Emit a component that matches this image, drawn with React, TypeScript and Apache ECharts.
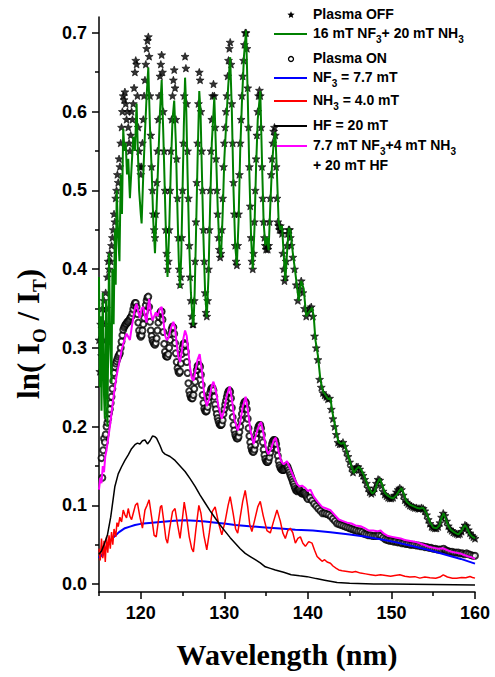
import React, { useEffect, useRef } from "react";
import * as echarts from "echarts";

// ---------------- DATA ----------------
// Plasma OFF (stars), fine sampling 115.0 .. 137.9 nm, step 0.1
const PLASMA_OFF_FINE_START = 115.0;
const PLASMA_OFF_FINE_STEP = 0.1;
const plasmaOffFine = [
  0.31, 0.27, 0.33, 0.29, 0.35, 0.31, 0.36, 0.33, 0.37, 0.35, // 115
  0.39, 0.41, 0.40, 0.42, 0.41, 0.43, 0.44, 0.45, 0.47, 0.46, // 116
  0.49, 0.50, 0.52, 0.51, 0.54, 0.53, 0.56, 0.58, 0.60, 0.62, // 117
  0.615, 0.625, 0.61, 0.59, 0.60, 0.58, 0.56, 0.55, 0.57, 0.60, // 118
  0.59, 0.61, 0.63, 0.65, 0.665, 0.66, 0.62, 0.58, 0.55, 0.53, // 119
  0.52, 0.53, 0.56, 0.59, 0.62, 0.64, 0.66, 0.68, 0.69, 0.695, // 120
  0.67, 0.62, 0.57, 0.53, 0.50, 0.47, 0.45, 0.44, 0.47, 0.51, // 121
  0.55, 0.59, 0.62, 0.645, 0.66, 0.672, 0.65, 0.60, 0.55, 0.50, // 122
  0.45, 0.42, 0.40, 0.41, 0.45, 0.50, 0.55, 0.59, 0.62, 0.64, // 123
  0.653, 0.63, 0.59, 0.54, 0.49, 0.44, 0.40, 0.38, 0.39, 0.44, // 124
  0.50, 0.56, 0.62, 0.67, 0.655, 0.61, 0.55, 0.49, 0.43, 0.39, // 125
  0.36, 0.34, 0.33, 0.33, 0.36, 0.41, 0.46, 0.51, 0.56, 0.61, // 126
  0.65, 0.64, 0.60, 0.55, 0.50, 0.45, 0.41, 0.37, 0.345, 0.34, // 127
  0.36, 0.40, 0.45, 0.50, 0.55, 0.59, 0.62, 0.635, 0.62, 0.58, // 128
  0.54, 0.50, 0.47, 0.44, 0.425, 0.415, 0.42, 0.45, 0.49, 0.53, // 129
  0.56, 0.58, 0.60, 0.62, 0.645, 0.665, 0.68, 0.688, 0.66, 0.61, // 130
  0.56, 0.51, 0.47, 0.43, 0.41, 0.405, 0.43, 0.47, 0.52, 0.56, // 131
  0.59, 0.62, 0.645, 0.665, 0.685, 0.70, 0.70, 0.68, 0.63, 0.58, // 132
  0.53, 0.48, 0.44, 0.41, 0.40, 0.42, 0.46, 0.50, 0.54, 0.57, // 133
  0.60, 0.62, 0.627, 0.62, 0.58, 0.53, 0.49, 0.46, 0.44, 0.43, // 134
  0.425, 0.43, 0.425, 0.43, 0.46, 0.49, 0.52, 0.54, 0.56, 0.575, // 135
  0.58, 0.57, 0.53, 0.49, 0.46, 0.455, 0.45, 0.455, 0.45, 0.445, // 136
  0.42, 0.40, 0.385, 0.39, 0.41, 0.43, 0.445, 0.45, 0.45, 0.44, // 137
];
// Plasma OFF (stars), coarse sampling 138.0 .. 160.0 nm, step 0.2
const PLASMA_OFF_COARSE_START = 138.0;
const PLASMA_OFF_COARSE_STEP = 0.2;
const plasmaOffCoarse = [
  0.43, 0.415, 0.40, 0.38, 0.36, // 138
  0.375, 0.385, 0.37, 0.35, 0.34, // 139
  0.345, 0.35, 0.352, 0.34, 0.315, // 140
  0.30, 0.285, 0.26, 0.25, 0.243, // 141
  0.24, 0.238, 0.235, 0.236, 0.222, // 142
  0.21, 0.20, 0.19, 0.18, 0.178, // 143
  0.178, 0.18, 0.175, 0.168, 0.162, // 144
  0.155, 0.148, 0.142, 0.145, 0.149, // 145
  0.149, 0.146, 0.141, 0.138, 0.133, // 146
  0.128, 0.122, 0.117, 0.115, 0.117, // 147
  0.122, 0.128, 0.133, 0.132, 0.125, // 148
  0.118, 0.114, 0.112, 0.110, 0.109, // 149
  0.109, 0.110, 0.113, 0.117, 0.120, // 150
  0.122, 0.120, 0.113, 0.107, 0.104, // 151
  0.102, 0.100, 0.099, 0.098, 0.097, // 152
  0.097, 0.096, 0.096, 0.097, 0.096, // 153
  0.093, 0.088, 0.082, 0.077, 0.073, // 154
  0.072, 0.071, 0.071, 0.073, 0.078, // 155
  0.085, 0.090, 0.087, 0.080, 0.074, // 156
  0.070, 0.068, 0.066, 0.065, 0.064, // 157
  0.063, 0.064, 0.067, 0.071, 0.075, // 158
  0.074, 0.069, 0.065, 0.062, 0.060, // 159
  0.058, // 160
];

// Plasma ON (open circles)
const plasmaOnLead = [
  [115.3, 0.16], [115.4, 0.135], [115.5, 0.17], [115.6, 0.185], [115.7, 0.18], [115.8, 0.19], [115.9, 0.2],
];
const PLASMA_ON_FINE_START = 116.0;
const PLASMA_ON_FINE_STEP = 0.1;
const plasmaOnFine = [
  0.205, 0.21, 0.217, 0.222, 0.23, 0.238, 0.248, 0.258, 0.268, 0.276, // 116
  0.28, 0.283, 0.286, 0.289, 0.291, 0.293, 0.3, 0.308, 0.316, 0.323, // 117
  0.326, 0.328, 0.33, 0.331, 0.333, 0.333, 0.335, 0.337, 0.339, 0.34, // 118
  0.344, 0.349, 0.354, 0.357, 0.357, 0.352, 0.343, 0.332, 0.322, 0.316, // 119
  0.314, 0.316, 0.322, 0.33, 0.338, 0.346, 0.354, 0.36, 0.364, 0.365, // 120
  0.352, 0.333, 0.322, 0.315, 0.31, 0.307, 0.305, 0.304, 0.306, 0.312, // 121
  0.322, 0.332, 0.339, 0.344, 0.346, 0.346, 0.336, 0.32, 0.305, 0.295, // 122
  0.29, 0.289, 0.289, 0.292, 0.3, 0.31, 0.318, 0.324, 0.327, 0.326, // 123
  0.318, 0.306, 0.293, 0.282, 0.274, 0.27, 0.268, 0.27, 0.28, 0.292, // 124
  0.3, 0.305, 0.306, 0.304, 0.295, 0.282, 0.268, 0.255, 0.245, 0.24, // 125
  0.237, 0.236, 0.236, 0.24, 0.248, 0.257, 0.265, 0.272, 0.277, 0.278, // 126
  0.278, 0.276, 0.266, 0.253, 0.24, 0.23, 0.223, 0.22, 0.219, 0.22, // 127
  0.225, 0.232, 0.238, 0.243, 0.247, 0.249, 0.249, 0.246, 0.238, 0.228, // 128
  0.222, 0.216, 0.211, 0.207, 0.204, 0.202, 0.202, 0.203, 0.208, 0.216, // 129
  0.222, 0.228, 0.233, 0.238, 0.242, 0.245, 0.246, 0.244, 0.236, 0.224, // 130
  0.212, 0.202, 0.195, 0.19, 0.187, 0.185, 0.185, 0.187, 0.193, 0.2, // 131
  0.208, 0.216, 0.223, 0.228, 0.231, 0.232, 0.23, 0.222, 0.21, 0.198, // 132
  0.188, 0.18, 0.174, 0.17, 0.168, 0.168, 0.171, 0.177, 0.185, 0.192, // 133
  0.197, 0.2, 0.202, 0.202, 0.198, 0.19, 0.18, 0.171, 0.164, 0.159, // 134
  0.156, 0.155, 0.155, 0.157, 0.161, 0.167, 0.173, 0.178, 0.181, 0.183, // 135
  0.183, 0.182, 0.178, 0.171, 0.163, 0.156, 0.151, 0.148, 0.146, 0.145, // 136
  0.145, 0.145, 0.146, 0.148, 0.15, 0.15, 0.148, 0.145, 0.142, 0.139, // 137
  0.136, 0.133, 0.13, 0.127, 0.124, 0.121, 0.119, 0.118, 0.119, 0.12, // 138
  0.12, 0.118, 0.116, 0.115, 0.115, 0.116, 0.116, 0.114, 0.112, 0.11, // 139
];
const PLASMA_ON_COARSE_START = 140.0;
const PLASMA_ON_COARSE_STEP = 0.25;
const plasmaOnCoarse = [
  0.108, 0.11, 0.106, 0.102, // 140
  0.099, 0.096, 0.093, 0.09, // 141
  0.09, 0.089, 0.088, 0.086, // 142
  0.083, 0.08, 0.077, 0.076, // 143
  0.075, 0.074, 0.073, 0.072, // 144
  0.071, 0.07, 0.069, 0.068, // 145
  0.067, 0.067, 0.066, 0.064, // 146
  0.063, 0.062, 0.062, 0.061, // 147
  0.061, 0.061, 0.062, 0.061, // 148
  0.059, 0.057, 0.056, 0.055, // 149
  0.055, 0.054, 0.054, 0.053, // 150
  0.053, 0.052, 0.052, 0.051, // 151
  0.051, 0.05, 0.05, 0.05, // 152
  0.049, 0.049, 0.048, 0.048, // 153
  0.047, 0.047, 0.046, 0.046, // 154
  0.045, 0.045, 0.044, 0.044, // 155
  0.044, 0.045, 0.043, 0.042, // 156
  0.041, 0.041, 0.04, 0.04, // 157
  0.04, 0.039, 0.039, 0.038, // 158
  0.039, 0.038, 0.037, 0.036, // 159
  0.036, // 160
];

// 16 mT NF3 + 20 mT NH3 (green)
const nf3nh3Line = [
  [115.0, 0.39], [115.1, 0.25], [115.2, 0.34], [115.3, 0.22], [115.45, 0.37], [115.6, 0.24], [115.7, 0.21],
  [115.85, 0.36], [116.0, 0.2], [116.1, 0.3], [116.2, 0.42], [116.35, 0.3], [116.5, 0.255], [116.6, 0.4],
  [116.75, 0.33], [116.9, 0.45], [117.0, 0.38], [117.12, 0.5], [117.3, 0.44], [117.45, 0.41], [117.6, 0.52],
  [117.75, 0.47], [117.9, 0.578], [118.05, 0.55], [118.2, 0.56], [118.35, 0.52], [118.5, 0.54], [118.7, 0.49],
  [118.9, 0.53], [119.1, 0.568], [119.3, 0.55], [119.5, 0.61], [119.65, 0.55], [119.8, 0.5], [120.0, 0.47],
  [120.1, 0.458], [120.3, 0.52], [120.5, 0.573], [120.7, 0.62], [120.9, 0.656], [121.1, 0.58], [121.3, 0.526],
  [121.5, 0.46], [121.7, 0.42], [121.9, 0.48], [122.1, 0.54], [122.3, 0.6], [122.5, 0.64], [122.7, 0.57],
  [122.9, 0.49], [123.05, 0.43], [123.2, 0.39], [123.4, 0.45], [123.6, 0.53], [123.8, 0.59], [124.0, 0.614],
  [124.2, 0.56], [124.4, 0.47], [124.55, 0.41], [124.7, 0.376], [124.85, 0.42], [125.0, 0.5], [125.15, 0.58],
  [125.3, 0.643], [125.45, 0.6], [125.6, 0.52], [125.8, 0.43], [126.0, 0.37], [126.2, 0.335], [126.3, 0.328],
  [126.45, 0.37], [126.6, 0.44], [126.8, 0.54], [127.0, 0.626], [127.15, 0.6], [127.3, 0.53], [127.5, 0.44],
  [127.7, 0.37], [127.9, 0.339], [128.1, 0.39], [128.3, 0.48], [128.5, 0.56], [128.8, 0.618], [129.0, 0.55],
  [129.2, 0.48], [129.4, 0.43], [129.6, 0.415], [129.8, 0.47], [130.0, 0.54], [130.2, 0.58], [130.45, 0.63],
  [130.7, 0.669], [130.9, 0.6], [131.1, 0.5], [131.3, 0.43], [131.5, 0.405], [131.7, 0.46], [131.9, 0.55],
  [132.1, 0.61], [132.35, 0.67], [132.6, 0.703], [132.8, 0.62], [133.0, 0.52], [133.2, 0.44], [133.4, 0.4],
  [133.6, 0.45], [133.8, 0.53], [134.0, 0.59], [134.3, 0.626], [134.5, 0.54], [134.7, 0.46], [134.9, 0.43],
  [135.1, 0.44], [135.3, 0.424], [135.5, 0.48], [135.7, 0.53], [135.9, 0.56], [136.1, 0.574], [136.3, 0.52],
  [136.5, 0.46], [136.7, 0.45], [136.9, 0.455], [137.1, 0.42], [137.3, 0.385], [137.5, 0.42], [137.7, 0.452],
  [137.9, 0.45], [138.2, 0.42], [138.5, 0.395], [138.9, 0.36], [139.2, 0.385], [139.5, 0.375], [139.8, 0.34],
  [140.1, 0.345], [140.5, 0.351], [140.7, 0.34], [140.9, 0.31], [141.2, 0.29], [141.5, 0.259], [141.8, 0.245],
  [142.1, 0.24], [142.4, 0.235], [142.7, 0.236], [142.9, 0.22], [143.2, 0.204], [143.5, 0.187], [143.7, 0.18],
  [144.0, 0.178], [144.3, 0.18], [144.6, 0.17], [144.9, 0.16], [145.2, 0.15], [145.5, 0.141], [145.8, 0.146],
  [146.1, 0.149], [146.4, 0.145], [146.7, 0.138], [147.0, 0.13], [147.3, 0.122], [147.7, 0.115], [148.0, 0.118],
  [148.3, 0.128], [148.6, 0.134], [148.9, 0.126], [149.2, 0.116], [149.6, 0.112], [149.9, 0.11], [150.2, 0.109],
  [150.6, 0.113], [150.9, 0.118], [151.2, 0.122], [151.5, 0.114], [151.8, 0.105], [152.2, 0.101], [152.6, 0.099],
  [153.0, 0.097], [153.4, 0.096], [153.8, 0.097], [154.2, 0.09], [154.6, 0.079], [155.0, 0.072], [155.4, 0.071],
  [155.7, 0.074], [156.0, 0.084], [156.25, 0.09], [156.5, 0.083], [156.8, 0.074], [157.1, 0.069], [157.5, 0.066],
  [158.0, 0.063], [158.4, 0.068], [158.8, 0.075], [159.1, 0.07], [159.4, 0.063], [159.7, 0.06], [160.0, 0.058],
];

// NF3 = 7.7 mT (blue)
const nf3Line = [
  [115.0, 0.033], [115.2, 0.038], [115.4, 0.035], [115.6, 0.042], [115.8, 0.045], [116.1, 0.052], [116.5, 0.057],
  [116.9, 0.061], [117.4, 0.066], [118.1, 0.071], [118.7, 0.073], [119.3, 0.075], [120.0, 0.0765], [121.0, 0.0775],
  [122.0, 0.0785], [123.0, 0.0795], [124.0, 0.0805], [125.3, 0.081], [126.5, 0.0805], [127.7, 0.0795], [129.0, 0.078],
  [130.2, 0.0765], [131.3, 0.075], [133.0, 0.0735], [134.9, 0.072], [136.7, 0.0705], [138.5, 0.069], [140.6, 0.068],
  [142.7, 0.066], [145.0, 0.063], [147.0, 0.06], [148.7, 0.057], [150.6, 0.053], [152.6, 0.048], [154.6, 0.043],
  [156.6, 0.037], [158.3, 0.032], [160.0, 0.026],
];

// NH3 = 4.0 mT (red)
const nh3Line = [
  [115.0, 0.045], [115.15, 0.03], [115.3, 0.058], [115.45, 0.033], [115.6, 0.055], [115.75, 0.028], [115.9, 0.06],
  [116.05, 0.04], [116.2, 0.062], [116.35, 0.045], [116.5, 0.066], [116.65, 0.05], [116.8, 0.07], [117.0, 0.06],
  [117.15, 0.078], [117.3, 0.073], [117.5, 0.085], [117.7, 0.079], [117.9, 0.094], [118.1, 0.088], [118.3, 0.084],
  [118.5, 0.096], [118.7, 0.086], [118.9, 0.082], [119.1, 0.09], [119.35, 0.1], [119.6, 0.103], [119.9, 0.085],
  [120.2, 0.071], [120.5, 0.094], [120.75, 0.1], [121.0, 0.107], [121.3, 0.085], [121.6, 0.062], [121.85, 0.06],
  [122.1, 0.08], [122.35, 0.098], [122.5, 0.1], [122.75, 0.08], [123.0, 0.058], [123.2, 0.052], [123.45, 0.07],
  [123.8, 0.092], [124.1, 0.096], [124.4, 0.076], [124.7, 0.058], [124.95, 0.08], [125.2, 0.104], [125.45, 0.088],
  [125.8, 0.06], [126.1, 0.045], [126.3, 0.041], [126.6, 0.07], [126.95, 0.1], [127.2, 0.09], [127.55, 0.062],
  [127.9, 0.0435], [128.2, 0.065], [128.55, 0.092], [128.9, 0.098], [129.3, 0.078], [129.7, 0.0626], [130.1, 0.08],
  [130.45, 0.1], [130.7, 0.111], [131.05, 0.09], [131.35, 0.07], [131.6, 0.0647], [131.9, 0.085], [132.2, 0.105],
  [132.5, 0.119], [132.8, 0.098], [133.05, 0.075], [133.3, 0.0668], [133.6, 0.08], [134.0, 0.098], [134.3, 0.105],
  [134.65, 0.087], [135.1, 0.068], [135.5, 0.065], [135.9, 0.08], [136.3, 0.094], [136.7, 0.08], [137.0, 0.065],
  [137.3, 0.058], [137.6, 0.068], [137.9, 0.071], [138.2, 0.065], [138.5, 0.052], [138.8, 0.058], [139.1, 0.06],
  [139.4, 0.052], [139.7, 0.048], [140.1, 0.054], [140.5, 0.052], [140.8, 0.043], [141.1, 0.035], [141.4, 0.032],
  [141.7, 0.029], [142.0, 0.031], [142.3, 0.028], [142.7, 0.0266], [143.0, 0.023], [143.4, 0.02], [143.7, 0.018],
  [144.1, 0.017], [144.7, 0.016], [145.3, 0.015], [145.7, 0.016], [146.3, 0.014], [146.9, 0.013], [147.5, 0.012],
  [148.1, 0.011], [148.7, 0.0118], [149.3, 0.011], [149.9, 0.01], [150.4, 0.011], [151.0, 0.0118], [151.6, 0.01],
  [152.2, 0.009], [152.8, 0.0095], [153.4, 0.0076], [154.0, 0.009], [154.6, 0.008], [155.3, 0.0075], [155.8, 0.009],
  [156.2, 0.0118], [156.7, 0.009], [157.3, 0.0075], [157.8, 0.0076], [158.4, 0.0085], [158.9, 0.008], [159.4, 0.0096],
  [159.7, 0.0085], [160.0, 0.0076],
];

// HF = 20 mT (black)
const hfLine = [
  [115.0, 0.038], [115.3, 0.042], [115.6, 0.05], [116.0, 0.062], [116.4, 0.085], [116.9, 0.124], [117.3, 0.14],
  [117.7, 0.149], [118.1, 0.157], [118.5, 0.164], [118.9, 0.172], [119.3, 0.177], [119.6, 0.179], [119.9, 0.178],
  [120.2, 0.182], [120.5, 0.183], [120.8, 0.178], [121.1, 0.182], [121.4, 0.188], [121.7, 0.187], [121.9, 0.185],
  [122.3, 0.176], [122.6, 0.168], [122.9, 0.165], [123.5, 0.162], [124.1, 0.157], [124.7, 0.15], [125.3, 0.143],
  [125.9, 0.134], [126.5, 0.124], [127.1, 0.113], [127.7, 0.103], [128.3, 0.093], [128.9, 0.084], [129.5, 0.075],
  [130.1, 0.067], [130.7, 0.059], [131.3, 0.052], [131.9, 0.045], [132.5, 0.039], [133.1, 0.035], [133.7, 0.031],
  [134.3, 0.027], [134.9, 0.022], [135.5, 0.02], [136.1, 0.018], [137.1, 0.015], [138.0, 0.012], [139.0, 0.0105],
  [139.9, 0.0095], [141.0, 0.007], [142.0, 0.005], [143.5, 0.002], [145.0, 0.001], [147.9, 0.0], [150.0, 0.0],
  [155.0, -0.0005], [160.0, -0.001],
];

// 7.7 mT NF3 + 4 mT NH3 + 20 mT HF (magenta)
const mixLine = [
  [115.0, 0.12], [115.15, 0.135], [115.3, 0.128], [115.45, 0.15], [115.6, 0.142], [115.75, 0.162], [115.9, 0.17],
  [116.1, 0.185], [116.3, 0.2], [116.5, 0.217], [116.7, 0.235], [116.9, 0.25], [117.1, 0.264], [117.3, 0.275],
  [117.5, 0.285], [117.7, 0.297], [117.9, 0.305], [118.1, 0.312], [118.3, 0.318], [118.5, 0.314], [118.7, 0.31],
  [118.9, 0.325], [119.1, 0.338], [119.3, 0.35], [119.5, 0.356], [119.7, 0.345], [119.9, 0.338], [120.1, 0.35],
  [120.3, 0.352], [120.5, 0.34], [120.7, 0.332], [120.85, 0.35], [121.0, 0.362], [121.2, 0.345], [121.4, 0.335],
  [121.6, 0.34], [121.8, 0.345], [122.0, 0.34], [122.3, 0.35], [122.5, 0.352], [122.7, 0.335], [122.9, 0.316],
  [123.1, 0.31], [123.3, 0.312], [123.6, 0.325], [123.9, 0.333], [124.1, 0.325], [124.3, 0.305], [124.5, 0.288],
  [124.7, 0.282], [124.9, 0.295], [125.1, 0.312], [125.3, 0.322], [125.5, 0.315], [125.7, 0.295], [125.9, 0.275],
  [126.1, 0.262], [126.3, 0.258], [126.5, 0.268], [126.8, 0.285], [127.05, 0.292], [127.3, 0.272], [127.6, 0.24],
  [127.9, 0.226], [128.2, 0.236], [128.5, 0.252], [128.7, 0.257], [129.0, 0.245], [129.3, 0.225], [129.7, 0.21],
  [130.0, 0.222], [130.3, 0.24], [130.65, 0.251], [130.9, 0.235], [131.2, 0.21], [131.6, 0.195], [131.9, 0.205],
  [132.2, 0.225], [132.55, 0.238], [132.8, 0.222], [133.1, 0.197], [133.5, 0.178], [133.8, 0.19], [134.1, 0.2],
  [134.4, 0.206], [134.7, 0.19], [135.0, 0.172], [135.25, 0.165], [135.6, 0.172], [135.9, 0.182], [136.15, 0.186],
  [136.5, 0.168], [136.8, 0.156], [137.1, 0.152], [137.5, 0.156], [137.9, 0.146], [138.3, 0.136], [138.7, 0.127],
  [139.0, 0.124], [139.3, 0.125], [139.7, 0.122], [140.0, 0.118], [140.3, 0.12], [140.7, 0.111], [141.2, 0.104],
  [141.7, 0.098], [142.2, 0.096], [142.7, 0.094], [143.2, 0.088], [143.7, 0.082], [144.2, 0.08], [144.7, 0.078],
  [145.2, 0.077], [145.7, 0.0745], [146.3, 0.0735], [146.8, 0.071], [147.3, 0.068], [147.8, 0.068], [148.3, 0.067],
  [148.7, 0.068], [149.1, 0.064], [149.6, 0.061], [150.1, 0.06], [150.6, 0.059], [151.1, 0.058], [151.6, 0.056],
  [152.1, 0.055], [152.6, 0.054], [153.1, 0.053], [153.6, 0.051], [154.1, 0.049], [154.6, 0.047], [155.1, 0.046],
  [155.6, 0.045], [156.2, 0.0455], [156.7, 0.043], [157.2, 0.041], [157.7, 0.04], [158.2, 0.039], [158.7, 0.037],
  [159.2, 0.035], [159.6, 0.034], [160.0, 0.032],
];

// Axis ticks
const xMajorTicks = [120, 130, 140, 150, 160];
const xMinorTicks = [115, 125, 135, 145, 155];
const yMajorTicks = [0, 0.1, 0.2, 0.3, 0.4, 0.5, 0.6, 0.7];
const yMinorTicks = [0.05, 0.15, 0.25, 0.35, 0.45, 0.55, 0.65];

// Legend labels (rich text)
const legendLabels = [
  "{m|Plasma OFF}",
  "{m|16 mT NF}{s|3}{m|+ 20 mT NH}{s|3}",
  "{m|Plasma ON}",
  "{m|NF}{s|3}{m| = 7.7 mT}",
  "{m|NH}{s|3}{m| = 4.0 mT}",
  "{m|HF = 20 mT}",
  "{m|7.7 mT NF}{s|3}{m|+4 mT NH}{s|3}",
  "{m|+ 20 mT HF}",
];

// ---------------- CHART ----------------
const SANS = 'Arial, "Liberation Sans", Helvetica, sans-serif';
const SERIF = '"Times New Roman", "Liberation Serif", Times, serif';
const STAR_PATH =
  "path://M0,-10L2.6,-3.4L9.51,-3.09L4.1,1.4L5.88,8.09L0,4.4L-5.88,8.09L-4.1,1.4L-9.51,-3.09L-2.6,-3.4Z";

const onGrid = (start: number, step: number, values: number[]) =>
  values.map((v, i) => [Number((start + i * step).toFixed(3)), v]);

const starPoints = (cx: number, cy: number, R: number, r: number) => {
  const pts: number[][] = [];
  for (let k = 0; k < 10; k++) {
    const a = -Math.PI / 2 + (k * Math.PI) / 5;
    const rad = k % 2 === 0 ? R : r;
    pts.push([cx + rad * Math.cos(a), cy + rad * Math.sin(a)]);
  }
  return pts;
};

export default function App() {
  const ref = useRef<HTMLDivElement>(null);

  useEffect(() => {
    if (!ref.current) return;
    const chart = echarts.init(ref.current, null, { renderer: "svg" });

    const plasmaOff = [
      ...onGrid(PLASMA_OFF_FINE_START, PLASMA_OFF_FINE_STEP, plasmaOffFine),
      ...onGrid(PLASMA_OFF_COARSE_START, PLASMA_OFF_COARSE_STEP, plasmaOffCoarse),
    ];
    const plasmaOn = [
      ...plasmaOnLead,
      ...onGrid(PLASMA_ON_FINE_START, PLASMA_ON_FINE_STEP, plasmaOnFine),
      ...onGrid(PLASMA_ON_COARSE_START, PLASMA_ON_COARSE_STEP, plasmaOnCoarse),
    ];

    const lineSeries = (data: number[][], color: string, width: number) => ({
      type: "line",
      data,
      symbol: "none",
      showSymbol: false,
      smooth: false,
      lineStyle: { color, width },
      itemStyle: { color },
      z: 3,
    });

    const richMain = {
      m: { fontSize: 14, fontWeight: "bold", fontFamily: SANS, color: "#000", lineHeight: 18, verticalAlign: "top" },
      s: { fontSize: 10, fontWeight: "bold", fontFamily: SANS, color: "#000", lineHeight: 10, verticalAlign: "bottom" },
    };

    const legendX = 313;
    const rowY = [15, 34, 59, 78, 101, 126, 146, 166];
    const sampleKinds: (string | null)[] = ["star", "#008000", "circle", "#0000ff", "#ff0000", "#000000", "#ff00ff", null];

    const legendElements: any[] = [];
    sampleKinds.forEach((kind, i) => {
      const y = rowY[i];
      if (kind === "star") {
        legendElements.push({
          type: "polygon",
          shape: { points: starPoints(291, y, 3.8, 1.7) },
          style: { fill: "#000" },
        });
      } else if (kind === "circle") {
        legendElements.push({
          type: "circle",
          shape: { cx: 291, cy: y, r: 2.5 },
          style: { fill: "#fff", stroke: "#000", lineWidth: 1.3 },
        });
      } else if (kind) {
        legendElements.push({
          type: "line",
          shape: { x1: 274, y1: y, x2: 307, y2: y },
          style: { stroke: kind, lineWidth: 2 },
        });
      }
      legendElements.push({
        type: "text",
        x: legendX,
        y: y + 1,
        style: {
          text: legendLabels[i],
          rich: richMain,
          align: "left",
          verticalAlign: "middle",
          textAlign: "left",
          textVerticalAlign: "middle",
        },
      });
    });

    const option: any = {
      animation: false,
      backgroundColor: "#ffffff",
      grid: { left: 99, right: 20, top: 17, bottom: 85 },
      xAxis: [
        {
          type: "value",
          min: 115,
          max: 160,
          position: "bottom",
          axisLine: { show: true, onZero: false, lineStyle: { color: "#000", width: 1.5 } },
          axisTick: { show: true, customValues: xMajorTicks, length: 7, lineStyle: { color: "#000", width: 1.5 } },
          axisLabel: {
            customValues: xMajorTicks,
            fontSize: 18,
            fontWeight: "bold",
            fontFamily: SANS,
            color: "#000",
            margin: 12,
            formatter: (v: number) => String(Math.round(v)),
          },
          splitLine: { show: false },
        },
        {
          type: "value",
          min: 115,
          max: 160,
          position: "bottom",
          offset: 0,
          axisLine: { show: false, onZero: false },
          axisTick: { show: true, customValues: xMinorTicks, length: 4, lineStyle: { color: "#000", width: 1.5 } },
          axisLabel: { show: false },
          splitLine: { show: false },
        },
      ],
      yAxis: [
        {
          type: "value",
          min: -0.01,
          max: 0.72,
          position: "left",
          axisLine: { show: true, onZero: false, lineStyle: { color: "#000", width: 1.5 } },
          axisTick: { show: true, customValues: yMajorTicks, length: 7, lineStyle: { color: "#000", width: 1.5 } },
          axisLabel: {
            customValues: yMajorTicks,
            fontSize: 18,
            fontWeight: "bold",
            fontFamily: SANS,
            color: "#000",
            margin: 12,
            formatter: (v: number) => v.toFixed(1),
          },
          splitLine: { show: false },
        },
        {
          type: "value",
          min: -0.01,
          max: 0.72,
          position: "left",
          offset: 0,
          axisLine: { show: false, onZero: false },
          axisTick: { show: true, customValues: yMinorTicks, length: 4, lineStyle: { color: "#000", width: 1.5 } },
          axisLabel: { show: false },
          splitLine: { show: false },
        },
      ],
      graphic: [
        ...legendElements,
        {
          type: "text",
          x: 287,
          y: 654,
          style: {
            text: "Wavelength (nm)",
            font: `bold 30px ${SERIF}`,
            fontSize: 30,
            fontWeight: "bold",
            fontFamily: SERIF,
            fill: "#000",
            align: "center",
            verticalAlign: "middle",
            textAlign: "center",
            textVerticalAlign: "middle",
          },
        },
        {
          type: "text",
          x: 31,
          y: 334,
          rotation: Math.PI / 2,
          style: {
            text: "{m|ln( I}{s|O}{m| / I}{s|T}{m|)}",
            rich: {
              m: { fontSize: 31, fontWeight: "bold", fontFamily: SERIF, color: "#000", lineHeight: 36, verticalAlign: "top" },
              s: { fontSize: 19, fontWeight: "bold", fontFamily: SERIF, color: "#000", lineHeight: 18, verticalAlign: "bottom" },
            },
            align: "center",
            verticalAlign: "middle",
            textAlign: "center",
            textVerticalAlign: "middle",
          },
        },
      ],
      series: [
        {
          name: "Plasma OFF",
          type: "scatter",
          data: plasmaOff,
          symbol: STAR_PATH,
          symbolSize: 8,
          symbolKeepAspect: true,
          itemStyle: { color: "#000", borderColor: "#000", borderWidth: 0.7 },
          z: 2,
        },
        {
          name: "Plasma ON",
          type: "scatter",
          data: plasmaOn,
          symbol: "emptyCircle",
          symbolSize: 6,
          itemStyle: { color: "#000", borderColor: "#000", borderWidth: 1.2 },
          z: 2,
        },
        { name: "NF3 = 7.7 mT", ...lineSeries(nf3Line, "#0000ff", 2) },
        { name: "NH3 = 4.0 mT", ...lineSeries(nh3Line, "#ff0000", 1.5) },
        { name: "HF = 20 mT", ...lineSeries(hfLine, "#000000", 1.5) },
        { name: "7.7 mT NF3+4 mT NH3 + 20 mT HF", ...lineSeries(mixLine, "#ff00ff", 2) },
        { name: "16 mT NF3+ 20 mT NH3", ...lineSeries(nf3nh3Line, "#008000", 2) },
      ],
    };

    chart.setOption(option);
    return () => chart.dispose();
  }, []);

  return (
    <div
      ref={ref}
      style={{ position: "fixed", left: 0, top: 0, width: 495, height: 677, background: "#fff" }}
    />
  );
}
